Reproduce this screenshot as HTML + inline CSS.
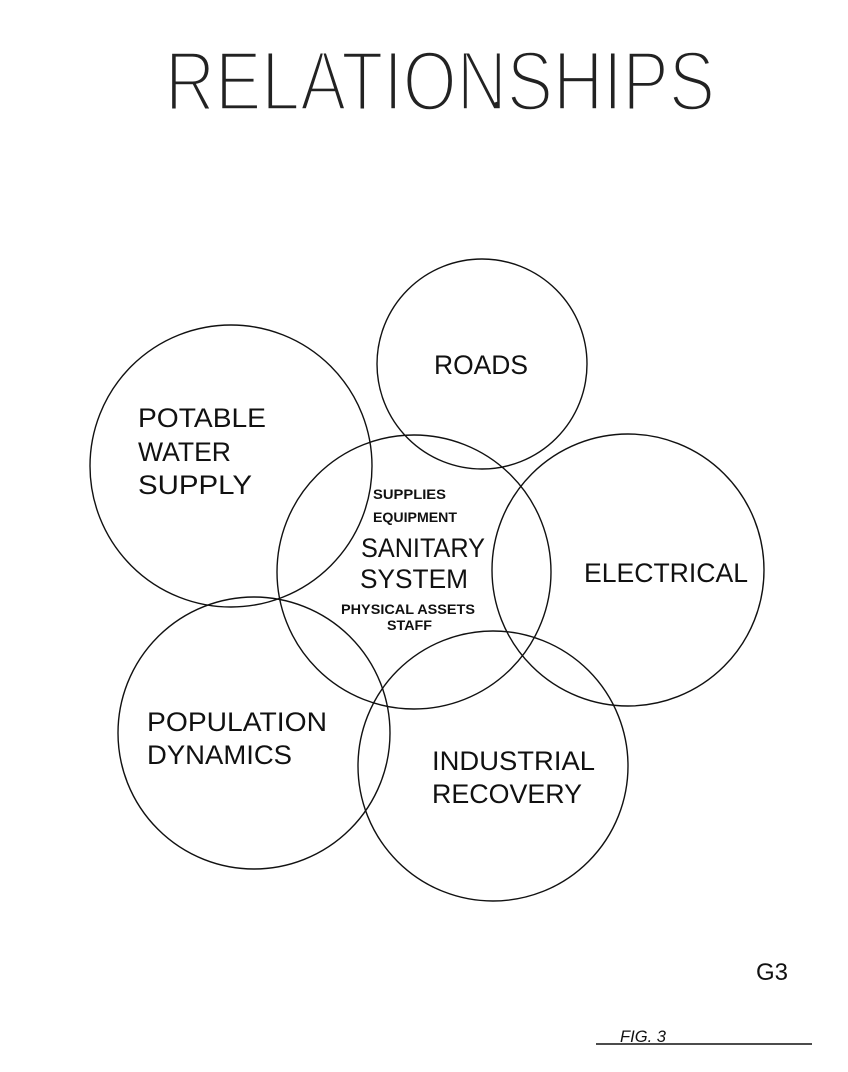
<!DOCTYPE html>
<html><head><meta charset="utf-8"><style>
html,body{margin:0;padding:0;background:#fff}
svg{display:block}
text{font-family:"Liberation Sans",sans-serif;fill:#111}
</style></head><body>
<svg width="848" height="1072" viewBox="0 0 848 1072" xmlns="http://www.w3.org/2000/svg">
<rect width="848" height="1072" fill="#fff"/>
<text x="165" y="110" font-size="84" textLength="550" lengthAdjust="spacingAndGlyphs" style="fill:#222;stroke:#fff;stroke-width:3.5">RELATIONSHIPS</text>
<g fill="none" stroke="#111" stroke-width="1.4">
<circle cx="482" cy="364" r="105"/>
<circle cx="231" cy="466" r="141"/>
<circle cx="414" cy="572" r="137"/>
<circle cx="628" cy="570" r="136"/>
<circle cx="254" cy="733" r="136"/>
<circle cx="493" cy="766" r="135"/>
</g>
<text x="434" y="374" font-size="27" textLength="94" lengthAdjust="spacingAndGlyphs">ROADS</text>
<text x="138" y="427" font-size="27" textLength="128" lengthAdjust="spacingAndGlyphs">POTABLE</text>
<text x="138" y="461" font-size="27" textLength="93" lengthAdjust="spacingAndGlyphs">WATER</text>
<text x="138" y="494" font-size="27" textLength="114" lengthAdjust="spacingAndGlyphs">SUPPLY</text>
<text x="373" y="499" font-size="14" font-weight="bold" textLength="73" lengthAdjust="spacingAndGlyphs">SUPPLIES</text>
<text x="373" y="522" font-size="14" font-weight="bold" textLength="84" lengthAdjust="spacingAndGlyphs">EQUIPMENT</text>
<text x="361" y="557" font-size="27" textLength="124" lengthAdjust="spacingAndGlyphs">SANITARY</text>
<text x="360" y="588" font-size="27" textLength="108" lengthAdjust="spacingAndGlyphs">SYSTEM</text>
<text x="341" y="614" font-size="14" font-weight="bold" textLength="134" lengthAdjust="spacingAndGlyphs">PHYSICAL ASSETS</text>
<text x="387" y="630" font-size="14" font-weight="bold" textLength="45" lengthAdjust="spacingAndGlyphs">STAFF</text>
<text x="584" y="582" font-size="27" textLength="164" lengthAdjust="spacingAndGlyphs">ELECTRICAL</text>
<text x="147" y="731" font-size="27" textLength="180" lengthAdjust="spacingAndGlyphs">POPULATION</text>
<text x="147" y="764" font-size="27" textLength="145" lengthAdjust="spacingAndGlyphs">DYNAMICS</text>
<text x="432" y="770" font-size="27" textLength="163" lengthAdjust="spacingAndGlyphs">INDUSTRIAL</text>
<text x="432" y="803" font-size="27" textLength="150" lengthAdjust="spacingAndGlyphs">RECOVERY</text>
<text x="756" y="980" font-size="24" textLength="32" lengthAdjust="spacingAndGlyphs">G3</text>
<text x="620" y="1042" font-size="17" font-style="italic" textLength="46" lengthAdjust="spacingAndGlyphs">FIG. 3</text>
<line x1="596" y1="1044" x2="812" y2="1044" stroke="#111" stroke-width="1.6"/>
</svg>
</body></html>
